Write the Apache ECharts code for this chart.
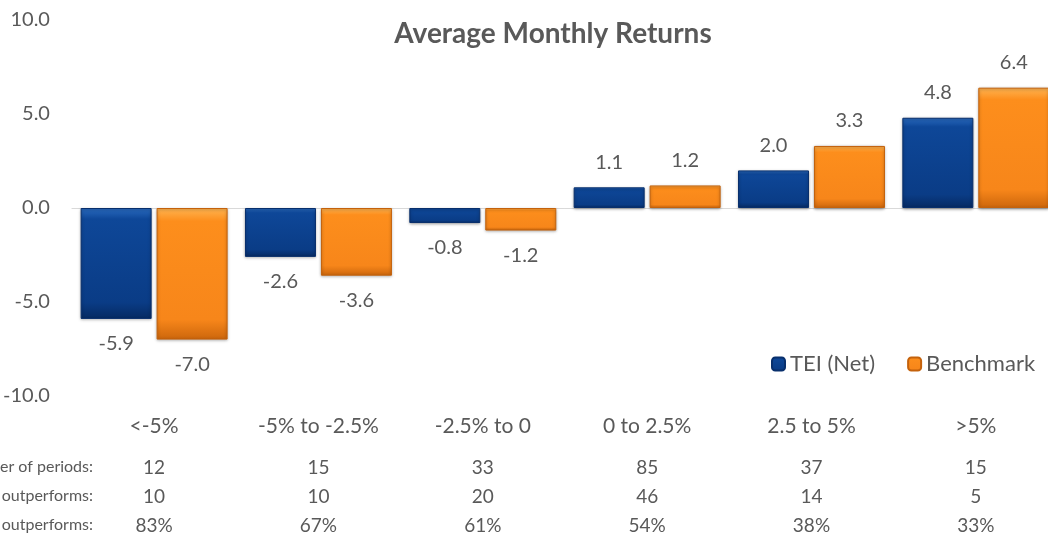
<!DOCTYPE html>
<html>
<head>
<meta charset="UTF-8">
<title>Average Monthly Returns</title>
<script src="https://cdn.jsdelivr.net/npm/echarts@6/dist/echarts.min.js"></script>
<style>
  html, body { margin: 0; padding: 0; background: #fff; overflow: hidden; }
  /* the original picture is cropped on the right, so the chart runs past the window */
  #main { width: 1058px; height: 535px; }
</style>
</head>
<body>
<div id="main"></div>
<script>
    // data
    var categories = ['<-5%', '-5% to -2.5%', '-2.5% to 0', '0 to 2.5%', '2.5 to 5%', '>5%'];
    var teiNet = [-5.9, -2.6, -0.8, 1.1, 2.0, 4.8];
    var benchmark = [-7.0, -3.6, -1.2, 1.2, 3.3, 6.4];
    var periods = ['12', '15', '33', '85', '37', '15'];
    var outperforms = ['10', '10', '20', '46', '14', '5'];
    var outperformsPct = ['83%', '67%', '61%', '54%', '38%', '33%'];
    var rowLabels = ['Number of periods:', 'TEI outperforms:', '% TEI outperforms:'];

    var FONT = 'Lato, "Open Sans", sans-serif';
    var GREY = '#595959';

    var myChart = echarts.init(document.getElementById('main'));

    var blueFill = new echarts.graphic.LinearGradient(0, 0, 0, 1, [
        {offset: 0, color: '#2a6bc0'},
        {offset: 0.1, color: '#0e4798'},
        {offset: 0.85, color: '#0a3c86'},
        {offset: 1, color: '#062a62'}
    ]);
    var orangeFill = new echarts.graphic.LinearGradient(0, 0, 0, 1, [
        {offset: 0, color: '#ffb552'},
        {offset: 0.1, color: '#fd8e1c'},
        {offset: 0.85, color: '#f7861a'},
        {offset: 1, color: '#cc660c'}
    ]);

    // one extra x axis per text row under the chart
    function rowAxis(data, offset, size) {
        return {
            type: 'category',
            data: data,
            position: 'bottom',
            offset: offset,
            axisLine: {show: false, onZero: false},
            axisTick: {show: false},
            axisLabel: {interval: 0, margin: 0, color: GREY, fontSize: size, fontFamily: FONT}
        };
    }

    var option = {
        animation: false,
        title: {
            text: 'Average Monthly Returns',
            left: 548,
            top: 15,
            textAlign: 'center',
            textStyle: {color: GREY, fontSize: 28, fontWeight: 'bold', fontFamily: FONT}
        },
        legend: {
            left: 766,
            top: 348,
            itemWidth: 13,
            itemHeight: 13,
            itemGap: 32,
            textStyle: {color: GREY, fontSize: 22, fontFamily: FONT},
            data: ['TEI (Net)', 'Benchmark']
        },
        grid: {left: 69, right: 0, top: 20, bottom: 138},
        xAxis: [
            {
                type: 'category',
                data: categories,
                axisLine: {show: true, onZero: true, lineStyle: {color: '#d9d9d9', width: 1}},
                axisTick: {show: false},
                axisLabel: {show: false}
            },
            rowAxis(categories, 20, 21),
            rowAxis(periods, 62, 19),
            rowAxis(outperforms, 91, 19),
            rowAxis(outperformsPct, 120, 19)
        ],
        yAxis: {
            type: 'value',
            min: -10,
            max: 10,
            interval: 5,
            axisLine: {show: false},
            axisTick: {show: false},
            splitLine: {show: false},
            axisLabel: {
                margin: 22,
                color: GREY,
                fontSize: 20,
                fontFamily: FONT,
                formatter: function (v) { return v.toFixed(1); }
            }
        },
        graphic: rowLabels.map(function (t, i) {
            return {
                type: 'text',
                right: 1058 - 93,
                top: 459 + i * 29,
                style: {text: t, fill: GREY, fontSize: 16, fontFamily: FONT, textAlign: 'right'}
            };
        }),
        series: [
            {
                name: 'TEI (Net)',
                type: 'bar',
                barWidth: 71,
                barGap: '7%',
                itemStyle: {
                    color: blueFill,
                    borderColor: '#082f6c',
                    borderWidth: 1,
                    shadowColor: 'rgba(0,0,0,0.35)',
                    shadowBlur: 3,
                    shadowOffsetY: 1
                },
                label: {
                    show: true,
                    distance: 15,
                    color: GREY,
                    fontSize: 20,
                    fontFamily: FONT,
                    formatter: function (p) { return p.value.toFixed(1); }
                },
                data: teiNet.map(function (v) {
                    return {value: v, label: {position: v < 0 ? 'bottom' : 'top'}};
                })
            },
            {
                name: 'Benchmark',
                type: 'bar',
                barWidth: 71,
                itemStyle: {
                    color: orangeFill,
                    borderColor: '#c4620c',
                    borderWidth: 1,
                    shadowColor: 'rgba(0,0,0,0.35)',
                    shadowBlur: 3,
                    shadowOffsetY: 1
                },
                label: {
                    show: true,
                    distance: 15,
                    color: GREY,
                    fontSize: 20,
                    fontFamily: FONT,
                    formatter: function (p) { return p.value.toFixed(1); }
                },
                data: benchmark.map(function (v) {
                    return {value: v, label: {position: v < 0 ? 'bottom' : 'top'}};
                })
            }
        ]
    };
    myChart.setOption(option);
</script>
</body>
</html>
